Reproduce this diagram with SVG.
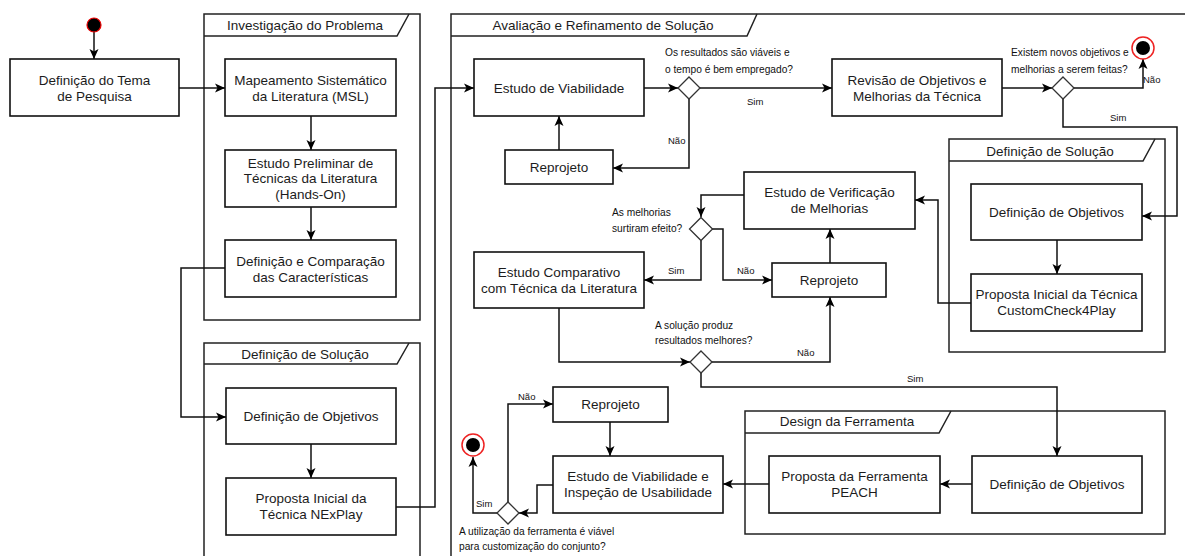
<svg xmlns="http://www.w3.org/2000/svg" width="1185" height="556" viewBox="0 0 1185 556">
<defs>
<marker id="arr" markerUnits="userSpaceOnUse" markerWidth="11" markerHeight="10" refX="10" refY="5" orient="auto">
<path d="M0,0.5 L10,5 L0,9.5 L2.5,5 Z" fill="#000"/>
</marker>
</defs>
<style>
.frame{fill:none;stroke:#222;stroke-width:1.5}
.box{fill:#fff;stroke:#111;stroke-width:1.6}
.dia{fill:#fff;stroke:#333;stroke-width:1.3}
.conn{fill:none;stroke:#111;stroke-width:1.5;marker-end:url(#arr)}
.t{font-family:"Liberation Sans",Arial,sans-serif;font-size:13.5px;fill:#1c1c1c;text-anchor:middle}
.q{font-family:"Liberation Sans",Arial,sans-serif;font-size:10.2px;fill:#111}
.l{font-family:"Liberation Sans",Arial,sans-serif;font-size:9.5px;fill:#111}
</style>
<rect width="1185" height="556" fill="#fff"/>

<g id="frames">
<g id="frame-investigacao">
<rect class="frame" x="204" y="14" width="216" height="306"/>
<path class="frame" d="M204,36 L397,36 L409,14"/>
<text class="t" x="305" y="30">Investigação do Problema</text>
</g>
<g id="frame-definicao-1">
<path class="frame" d="M204,560 L204,343 L420,343 L420,560"/>
<path class="frame" d="M204,364 L397,364 L409,343"/>
<text class="t" x="305" y="358.5">Definição de Solução</text>
</g>
<g id="frame-avaliacao">
<path class="frame" d="M451,560 L451,14 L1190,14"/>
<path class="frame" d="M451,36 L747,36 L757,14"/>
<text class="t" x="603" y="30">Avaliação e Refinamento de Solução</text>
</g>
<g id="frame-definicao-2">
<rect class="frame" x="949" y="139" width="216" height="213"/>
<path class="frame" d="M949,161 L1143,161 L1155,139"/>
<text class="t" x="1050" y="155.5">Definição de Solução</text>
</g>
<g id="frame-design">
<rect class="frame" x="745" y="411" width="420" height="123"/>
<path class="frame" d="M745,433 L939,433 L951,411"/>
<text class="t" x="847" y="426">Design da Ferramenta</text>
</g>
</g>

<g id="connectors">
<path class="conn" d="M94,32 L94,59"/>
<path class="conn" d="M179,88 L225,88"/>
<path class="conn" d="M311,116 L311,150"/>
<path class="conn" d="M311,207 L311,240"/>
<path class="conn" d="M225,268 L181,268 L181,417 L226,417"/>
<path class="conn" d="M311,444 L311,478"/>
<path class="conn" d="M396,507 L435,507 L435,88 L474,88"/>
<path class="conn" d="M644,88 L678,88"/>
<path class="conn" d="M700,88 L832,88"/>
<path class="conn" d="M689,99 L689,168 L613,168"/>
<path class="conn" d="M559,150 L559,116"/>
<path class="conn" d="M1002,88 L1052,88"/>
<path class="conn" d="M1074,88 L1143,88 L1143,59"/>
<path class="conn" d="M1063,99 L1063,127 L1177,127 L1177,216 L1142,216"/>
<path class="conn" d="M1057,240 L1057,274"/>
<path class="conn" d="M971,303 L938,303 L938,200 L915,200"/>
<path class="conn" d="M744,195 L701,195 L701,217"/>
<path class="conn" d="M701,240 L701,280 L644,280"/>
<path class="conn" d="M712,229 L723,229 L723,280 L772,280"/>
<path class="conn" d="M830,263 L830,229"/>
<path class="conn" d="M559,308 L559,362 L690,362"/>
<path class="conn" d="M712,362 L830,362 L830,297"/>
<path class="conn" d="M701,373 L701,387 L1057,387 L1057,456"/>
<path class="conn" d="M972,484 L940,484"/>
<path class="conn" d="M769,484 L723,484"/>
<path class="conn" d="M553,485 L537,485 L537,513 L519,513"/>
<path class="conn" d="M508,502 L508,404 L553,404"/>
<path class="conn" d="M610,422 L610,456"/>
<path class="conn" d="M497,513 L473,513 L473,457"/>
<text class="l" x="747" y="105">Sim</text>
<text class="l" x="668" y="144">Não</text>
<text class="l" x="1143" y="83">Não</text>
<text class="l" x="1110" y="121">Sim</text>
<text class="l" x="668" y="274">Sim</text>
<text class="l" x="737" y="274">Não</text>
<text class="l" x="797" y="356">Não</text>
<text class="l" x="907" y="382">Sim</text>
<text class="l" x="518" y="400">Não</text>
<text class="l" x="476" y="507">Sim</text>
</g>

<g id="start">
<circle cx="94" cy="25" r="7" fill="#000" stroke="#e00" stroke-width="1.2"/>
</g>
<g id="end-1">
<circle cx="1143" cy="48" r="11" fill="#fff" stroke="#e22" stroke-width="1.5"/>
<circle cx="1143" cy="48" r="7" fill="#000"/>
</g>
<g id="end-2">
<circle cx="473" cy="445" r="11" fill="#fff" stroke="#e22" stroke-width="1.5"/>
<circle cx="473" cy="445" r="7" fill="#000"/>
</g>

<g id="n-def-tema"><rect class="box" x="10" y="59" width="169" height="57"/>
<text class="t" x="94.5" y="84.5">Definição do Tema</text><text class="t" x="94.5" y="101">de Pesquisa</text></g>
<g id="n-msl"><rect class="box" x="225" y="59" width="171" height="57"/>
<text class="t" x="310.5" y="84.5">Mapeamento Sistemático</text><text class="t" x="310.5" y="101">da Literatura (MSL)</text></g>
<g id="n-preliminar"><rect class="box" x="225" y="150" width="171" height="57"/>
<text class="t" x="310.5" y="167.5">Estudo Preliminar de</text><text class="t" x="310.5" y="183">Técnicas da Literatura</text><text class="t" x="310.5" y="199">(Hands-On)</text></g>
<g id="n-comparacao"><rect class="box" x="225" y="240" width="171" height="57"/>
<text class="t" x="310.5" y="266">Definição e Comparação</text><text class="t" x="310.5" y="282">das Características</text></g>
<g id="n-obj-1"><rect class="box" x="226" y="388" width="170" height="56"/>
<text class="t" x="311" y="421">Definição de Objetivos</text></g>
<g id="n-nexplay"><rect class="box" x="226" y="478" width="170" height="57"/>
<text class="t" x="311" y="503">Proposta Inicial da</text><text class="t" x="311" y="519">Técnica NExPlay</text></g>

<g id="n-viabilidade"><rect class="box" x="474" y="59" width="170" height="57"/>
<text class="t" x="559" y="93">Estudo de Viabilidade</text></g>
<g id="d-1"><polygon class="dia" points="689,77 700,88 689,99 678,88"/>
<text class="q" x="665" y="56">Os resultados são viáveis e</text><text class="q" x="665" y="73">o tempo é bem empregado?</text></g>
<g id="n-reprojeto-1"><rect class="box" x="505" y="150" width="108" height="34"/>
<text class="t" x="559" y="172">Reprojeto</text></g>
<g id="n-revisao"><rect class="box" x="832" y="59" width="170" height="57"/>
<text class="t" x="917" y="84.5">Revisão de Objetivos e</text><text class="t" x="917" y="101">Melhorias da Técnica</text></g>
<g id="d-2"><polygon class="dia" points="1063,77 1074,88 1063,99 1052,88"/>
<text class="q" x="1011" y="56">Existem novos objetivos e</text><text class="q" x="1011" y="73">melhorias a serem feitas?</text></g>

<g id="n-obj-2"><rect class="box" x="971" y="184" width="171" height="56"/>
<text class="t" x="1056.5" y="217">Definição de Objetivos</text></g>
<g id="n-customcheck"><rect class="box" x="971" y="274" width="171" height="57"/>
<text class="t" x="1056.5" y="299">Proposta Inicial da Técnica</text><text class="t" x="1056.5" y="315">CustomCheck4Play</text></g>

<g id="n-verificacao"><rect class="box" x="744" y="172" width="171" height="57"/>
<text class="t" x="829.5" y="197">Estudo de Verificação</text><text class="t" x="829.5" y="213">de Melhorias</text></g>
<g id="d-3"><polygon class="dia" points="701,217.5 712.5,229 701,240.5 689.5,229"/>
<text class="q" x="612" y="216">As melhorias</text><text class="q" x="612" y="232">surtiram efeito?</text></g>
<g id="n-comparativo"><rect class="box" x="474" y="252" width="170" height="56"/>
<text class="t" x="559" y="277">Estudo Comparativo</text><text class="t" x="559" y="293">com Técnica da Literatura</text></g>
<g id="n-reprojeto-2"><rect class="box" x="772" y="263" width="114" height="34"/>
<text class="t" x="829" y="285">Reprojeto</text></g>
<g id="d-4"><polygon class="dia" points="701,351 712,362 701,373 690,362"/>
<text class="q" x="655" y="329">A solução produz</text><text class="q" x="655" y="344">resultados melhores?</text></g>

<g id="n-obj-3"><rect class="box" x="972" y="456" width="170" height="57"/>
<text class="t" x="1057" y="489">Definição de Objetivos</text></g>
<g id="n-peach"><rect class="box" x="769" y="456" width="171" height="57"/>
<text class="t" x="854.5" y="481">Proposta da Ferramenta</text><text class="t" x="854.5" y="497">PEACH</text></g>
<g id="n-usabilidade"><rect class="box" x="553" y="456" width="170" height="57"/>
<text class="t" x="638" y="481">Estudo de Viabilidade e</text><text class="t" x="638" y="497">Inspeção de Usabilidade</text></g>
<g id="n-reprojeto-3"><rect class="box" x="553" y="387" width="115" height="35"/>
<text class="t" x="610.5" y="409">Reprojeto</text></g>
<g id="d-5"><polygon class="dia" points="508,502 519,513 508,524 497,513"/>
<text class="q" x="459" y="535">A utilização da ferramenta é viável</text><text class="q" x="459" y="550">para customização do conjunto?</text></g>
</svg>
